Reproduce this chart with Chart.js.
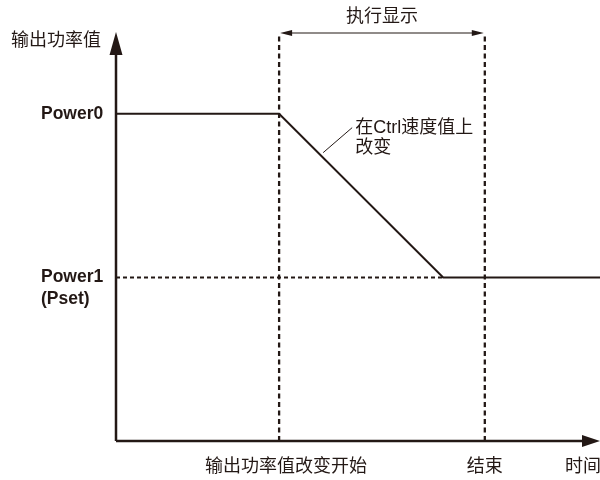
<!DOCTYPE html>
<html>
<head>
<meta charset="utf-8">
<script src="https://cdn.jsdelivr.net/npm/chart.js@4"></script>
<style>
    html, body { margin: 0; padding: 0; background: #ffffff; }
    #wrap { width: 600px; height: 480px; }
</style>
</head>
<body>
<div id="wrap"><canvas id="powerChart" width="600" height="480"></canvas></div>
<script>
// Output power over time (arbitrary units)
const timePoints = [0, 3.37, 6.76, 10];
const powerValues = [8, 8, 4, 4];

// Power levels and their labels
const levelValues = [8, 4];
const levelLabels = [['Power0'], ['Power1', '(Pset)']];

// Marker times: change start, end of display
const markerTimes = [3.37, 7.62];
const markerLabels = ['输出功率值改变开始', '结束'];

const axisMax = [10, 10];
const yAxisTitle = '输出功率值';
const xAxisTitle = '时间';
const spanLabel = '执行显示';
const noteLines = ['在Ctrl速度值上', '改变'];

const ink = '#231815';
const cjkFont = '"Liberation Sans", "Noto Sans CJK SC", sans-serif';
const latinFont = '"Liberation Sans", Arial, sans-serif';

/**
 * Plugin that draws the axes, arrows and all text
 */
const diagramPlugin = {
    id: 'diagram',
    afterDatasetsDraw(chart) {
        const ctx = chart.ctx;
        const xs = chart.scales.x;
        const ys = chart.scales.y;
        const x0 = xs.getPixelForValue(0);
        const y0 = ys.getPixelForValue(0);
        const xTop = xs.getPixelForValue(axisMax[0]);
        const yTop = ys.getPixelForValue(axisMax[1]);

        ctx.save();
        ctx.strokeStyle = ink;
        ctx.fillStyle = ink;
        ctx.lineWidth = 2.5;

        // axes
        ctx.beginPath();
        ctx.moveTo(x0, y0);
        ctx.lineTo(x0, yTop + 20);
        ctx.moveTo(x0, y0);
        ctx.lineTo(xTop - 14, y0);
        ctx.stroke();

        // arrow heads
        ctx.beginPath();
        ctx.moveTo(x0, yTop);
        ctx.lineTo(x0 - 6.5, yTop + 23);
        ctx.lineTo(x0 + 6.5, yTop + 23);
        ctx.closePath();
        ctx.fill();
        ctx.beginPath();
        ctx.moveTo(xTop, y0);
        ctx.lineTo(xTop - 18, y0 - 6);
        ctx.lineTo(xTop - 18, y0 + 6);
        ctx.closePath();
        ctx.fill();

        // double arrow over the display span
        const sx1 = xs.getPixelForValue(markerTimes[0]) + 1;
        const sx2 = xs.getPixelForValue(markerTimes[1]) - 1;
        const sy = yTop + 1;
        ctx.lineWidth = 1.2;
        ctx.beginPath();
        ctx.moveTo(sx1 + 8, sy);
        ctx.lineTo(sx2 - 8, sy);
        ctx.stroke();
        ctx.beginPath();
        ctx.moveTo(sx1, sy);
        ctx.lineTo(sx1 + 12, sy - 3);
        ctx.lineTo(sx1 + 12, sy + 3);
        ctx.closePath();
        ctx.moveTo(sx2, sy);
        ctx.lineTo(sx2 - 12, sy - 3);
        ctx.lineTo(sx2 - 12, sy + 3);
        ctx.closePath();
        ctx.fill();

        // leader line for the note
        const lx = xs.getPixelForValue(4.28);
        const ly = ys.getPixelForValue(7.05);
        ctx.lineWidth = 1;
        ctx.beginPath();
        ctx.moveTo(lx, ly);
        ctx.lineTo(lx + 29, ly - 25);
        ctx.stroke();

        // texts
        ctx.textBaseline = 'middle';
        ctx.font = '18px ' + cjkFont;
        ctx.textAlign = 'left';
        ctx.fillText(yAxisTitle, 11, 41);
        noteLines.forEach((line, i) => ctx.fillText(line, lx + 32, ly - 25 + i * 20));
        ctx.textAlign = 'center';
        ctx.fillText(spanLabel, (sx1 + sx2) / 2, 17);
        markerLabels.forEach((label, i) => {
            const px = xs.getPixelForValue(markerTimes[i]);
            ctx.fillText(label, px + (i === 0 ? 7 : 0), 467);
        });
        ctx.fillText(xAxisTitle, 583, 467);

        ctx.font = 'bold 17.5px ' + latinFont;
        ctx.textAlign = 'left';
        levelValues.forEach((v, i) => {
            const py = ys.getPixelForValue(v);
            levelLabels[i].forEach((line, j) => ctx.fillText(line, 41, py + j * 22));
        });
        ctx.restore();
    }
};

new Chart(document.getElementById('powerChart'), {
    type: 'scatter',
    data: {
        datasets: [
            {
                data: timePoints.map((t, i) => ({ x: t, y: powerValues[i] })),
                showLine: true,
                borderColor: ink,
                borderWidth: 2,
                pointRadius: 0,
                clip: false
            },
            {
                data: [{ x: 0, y: levelValues[1] }, { x: timePoints[2], y: levelValues[1] }],
                showLine: true,
                borderColor: ink,
                borderWidth: 2,
                borderDash: [4, 3],
                pointRadius: 0
            },
            ...markerTimes.map(t => ({
                data: [{ x: t, y: 0 }, { x: t, y: axisMax[1] - 0.03 }],
                showLine: true,
                borderColor: ink,
                borderWidth: 2.3,
                borderDash: [5, 3.5],
                pointRadius: 0
            }))
        ]
    },
    options: {
        responsive: false,
        animation: false,
        layout: { padding: { left: 116, right: 0, top: 32, bottom: 39 } },
        scales: {
            x: { type: 'linear', min: 0, max: axisMax[0], display: false },
            y: { type: 'linear', min: 0, max: axisMax[1], display: false }
        },
        plugins: {
            legend: { display: false },
            tooltip: { enabled: false }
        }
    },
    plugins: [diagramPlugin]
});
</script>
</body>
</html>
